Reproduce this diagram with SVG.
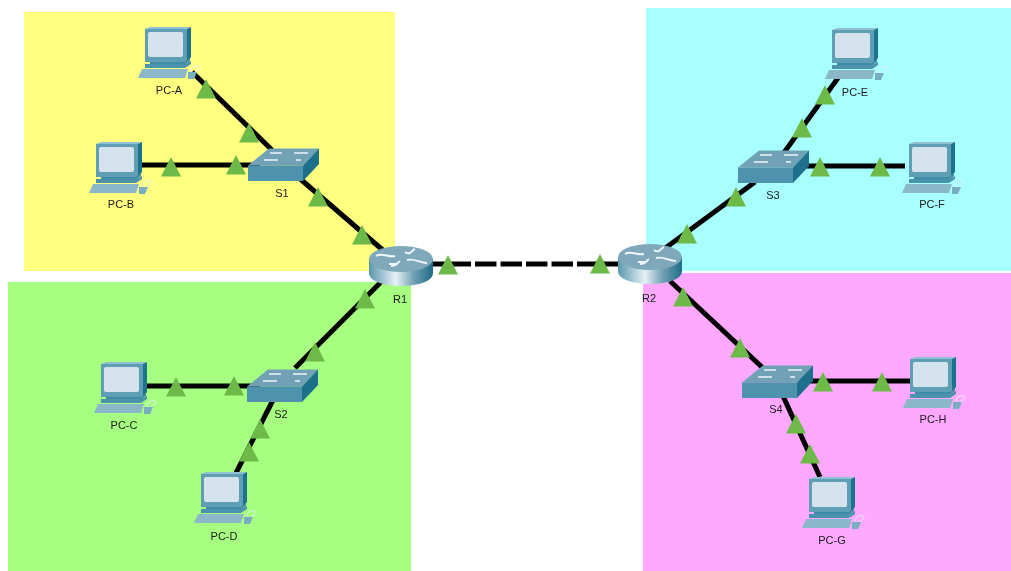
<svg xmlns="http://www.w3.org/2000/svg" width="1011" height="571" viewBox="0 0 1011 571">
<style>
text{font-family:"Liberation Sans",Arial,sans-serif;font-size:11px;fill:#1a1a1a;text-anchor:middle;filter:url(#soft)}
.l{stroke:#000;stroke-width:5;fill:none}
.t{fill:#6dba48}
.c{filter:url(#soft)}
</style>
<defs>
<filter id="soft" x="-10%" y="-10%" width="120%" height="120%"><feGaussianBlur stdDeviation="0.45"/></filter>
<linearGradient id="rg" x1="0" x2="1" y1="0" y2="0"><stop offset="0" stop-color="#5a97ad"/><stop offset=".42" stop-color="#e6f1f4"/><stop offset=".7" stop-color="#6fa0b3"/><stop offset="1" stop-color="#1f6c87"/></linearGradient>
<path id="tri" class="t" d="M0-10L10 9.500H-10Z"/>
<g id="pc">
<path d="M7 2L12 0H53L49 2Z" fill="#8fbfd0"/>
<path d="M49 2L53 0V30L49 35Z" fill="#1d7390"/>
<rect x="7" y="2" width="42" height="33" fill="#5f9fb6"/>
<rect x="10" y="5" width="35" height="25" rx="2" fill="#d5e4ec"/>
<path d="M12 35H47L52 31V34L46 38H12Z" fill="#3f8ba6"/>
<path d="M7 37H47L53 34V37L47 41H7Z" fill="#4b93ad"/>
<path d="M4 42H50L47 51H0Z" fill="#8ab8c9"/>
<path d="M50 45H59L56 52H50Z" fill="#78aec2"/>
<path d="M54 45C51 39 60 37 62 40C63 43 58 43 57 45" fill="none" stroke="#e4ecef" stroke-width="1"/>
</g>
<g id="sw">
<path d="M0 17.500L21 .5H71L55 17.500Z" fill="#6fa1b5"/>
<path d="M0 17.500H55V33H0Z" fill="#4f92ad"/>
<path d="M55 17.500L71 .5V16L55 33Z" fill="#1b6f8c"/>
<path d="M22 5H34M46 5H60M16 12H30M48 12H53" stroke="#eef4f7" stroke-width="1.300"/>
</g>
<g id="rt">
<path d="M0 13V27C0 35 14 40 32 40S64 35 64 27V13Z" fill="url(#rg)"/>
<ellipse cx="32" cy="13" rx="32" ry="13" fill="#7fa9bb"/>
<path d="M7 10C13 6 20 12 26 10M20 18L27 18M36 6C42 10 42 4 46 3M38 14C46 12 50 17 58 17M22 20C28 20 28 17 31 15" stroke="#f0f6f8" stroke-width="2" fill="none"/>
</g>
</defs>
<rect x="24" y="12" width="371" height="259" fill="#ffff80"/>
<rect x="8" y="282" width="403" height="289" fill="#a6ff80"/>
<rect x="646" y="8" width="365" height="263" fill="#a8ffff"/>
<rect x="643" y="273" width="368" height="298" fill="#ffa8ff"/>
<g id="connectors" class="c">
<path class="l" d="M192 72L272 150"/>
<path class="l" d="M142 165L260 165"/>
<path class="l" d="M298 177L385 252"/>
<path class="l" stroke-dasharray="41 4 21.500 4 21.500 4 21.500 4 21.500 4 21.500 4 50" d="M430 264H625"/>
<path class="l" d="M385 278L295 368"/>
<path class="l" d="M146 386H260"/>
<path class="l" d="M273 400L236 473"/>
<path class="l" d="M838 78L775 165"/>
<path class="l" d="M800 166H905"/>
<path class="l" d="M755 182L660 252"/>
<path class="l" d="M670 281L765 370"/>
<path class="l" d="M800 381H912"/>
<path class="l" d="M783 396L820 477"/>
</g>
<g id="markers" class="c">
<use href="#tri" x="206" y="89"/><use href="#tri" x="249" y="133"/><use href="#tri" x="171" y="167"/><use href="#tri" x="236" y="165"/>
<use href="#tri" x="318" y="197"/><use href="#tri" x="362" y="235"/><use href="#tri" x="448" y="265"/><use href="#tri" x="600" y="264"/>
<use href="#tri" x="315" y="352"/><use href="#tri" x="365" y="299"/><use href="#tri" x="176" y="387"/><use href="#tri" x="234" y="386"/>
<use href="#tri" x="260" y="429"/><use href="#tri" x="249" y="452"/><use href="#tri" x="825" y="95"/><use href="#tri" x="802" y="128"/>
<use href="#tri" x="820" y="167"/><use href="#tri" x="880" y="167"/><use href="#tri" x="736" y="197"/><use href="#tri" x="687" y="234"/>
<use href="#tri" x="683" y="297"/><use href="#tri" x="740" y="348"/><use href="#tri" x="823" y="382"/><use href="#tri" x="882" y="382"/>
<use href="#tri" x="796" y="424"/><use href="#tri" x="810" y="454"/>
</g>
<g id="pc-a"><use class="c" href="#pc" x="138" y="27"/><text x="169" y="94">PC-A</text></g>
<g id="pc-b"><use class="c" href="#pc" x="89" y="142"/><text x="121" y="208">PC-B</text></g>
<g id="pc-c"><use class="c" href="#pc" x="94" y="362"/><text x="124" y="429">PC-C</text></g>
<g id="pc-d"><use class="c" href="#pc" x="194" y="472"/><text x="224" y="540">PC-D</text></g>
<g id="pc-e"><use class="c" href="#pc" x="825" y="28"/><text x="855" y="96">PC-E</text></g>
<g id="pc-f"><use class="c" href="#pc" x="902" y="142"/><text x="932" y="208">PC-F</text></g>
<g id="pc-g"><use class="c" href="#pc" x="802" y="477"/><text x="832" y="544">PC-G</text></g>
<g id="pc-h"><use class="c" href="#pc" x="903" y="357"/><text x="933" y="423">PC-H</text></g>
<g id="s1"><use class="c" href="#sw" x="248" y="148"/><text x="282" y="197">S1</text></g>
<g id="s2"><use class="c" href="#sw" x="247" y="369"/><text x="281" y="418">S2</text></g>
<g id="s3"><use class="c" href="#sw" x="738" y="150"/><text x="773" y="199">S3</text></g>
<g id="s4"><use class="c" href="#sw" x="742" y="365"/><text x="776" y="413">S4</text></g>
<g id="r1"><use class="c" href="#rt" x="369" y="246"/><text x="400" y="303">R1</text></g>
<g id="r2"><use class="c" href="#rt" x="618" y="244"/><text x="649" y="302">R2</text></g>
</svg>
